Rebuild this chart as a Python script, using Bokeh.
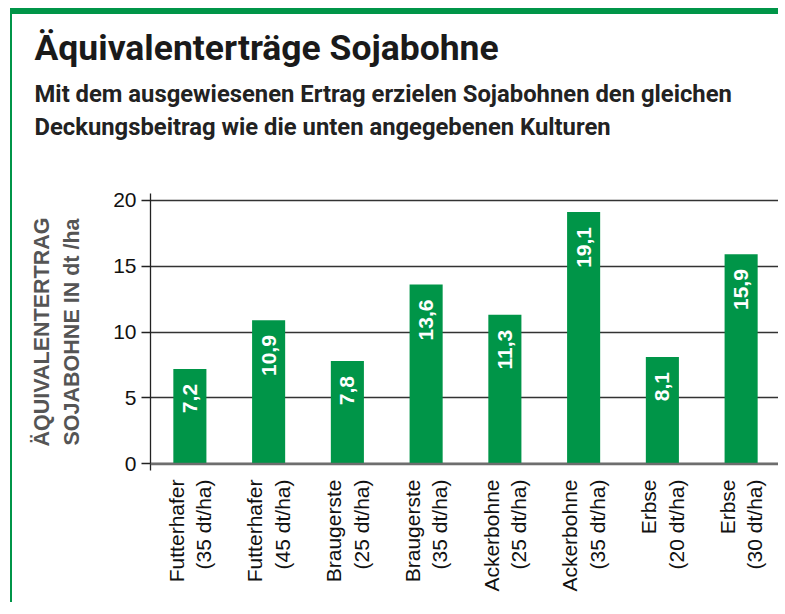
import math
from bokeh.plotting import figure
from bokeh.models import Span, FixedTicker, ColumnDataSource, Title
from bokeh.core.properties import value
from bokeh.embed import file_html
from bokeh.resources import INLINE

# ---- data ----
crops = ["Futterhafer", "Futterhafer", "Braugerste", "Braugerste",
         "Ackerbohne", "Ackerbohne", "Erbse", "Erbse"]
crop_yields = ["(35 dt/ha)", "(45 dt/ha)", "(25 dt/ha)", "(35 dt/ha)",
               "(25 dt/ha)", "(35 dt/ha)", "(20 dt/ha)", "(30 dt/ha)"]
soy_equivalent = [7.2, 10.9, 7.8, 13.6, 11.3, 19.1, 8.1, 15.9]
y_ticks = [0, 5, 10, 15, 20]

title_text = "Äquivalenterträge Sojabohne"
subtitle_lines = ["Mit dem ausgewiesenen Ertrag erzielen Sojabohnen den gleichen",
                  "Deckungsbeitrag wie die unten angegebenen Kulturen"]
ytitle_lines = ["ÄQUIVALENTERTRAG", "SOJABOHNE IN dt /ha"]

GREEN = "#009548"
W, H = 768, 594

cats = [f"{c}\n{y}" for c, y in zip(crops, crop_yields)]
labels = [f"{v:.1f}".replace(".", ",") for v in soy_equivalent]
src = ColumnDataSource(dict(cat=cats, val=soy_equivalent, lab=labels))

p = figure(x_range=cats, y_range=(-0.5, 20.5), width=W, height=H,
           output_backend="svg", toolbar_location=None,
           min_border_left=138, min_border_right=0,
           min_border_top=179, min_border_bottom=H - 179 - 277)
p.styles = {"margin-left": "10px", "margin-top": "8px",
            "border-top": f"6px solid {GREEN}",
            "border-left": f"2px solid {GREEN}"}

p.outline_line_color = None
p.background_fill_color = "white"
p.border_fill_color = "white"

# grid
p.xgrid.visible = False
p.ygrid.ticker = FixedTicker(ticks=y_ticks)
p.ygrid.grid_line_color = "#333333"
p.ygrid.grid_line_width = 1.4

# y axis
p.yaxis.ticker = FixedTicker(ticks=y_ticks)
p.yaxis.axis_line_color = "#222222"
p.yaxis.axis_line_width = 1.3
p.yaxis.major_tick_line_color = "#222222"
p.yaxis.major_tick_line_width = 1.3
p.yaxis.major_tick_out = 9
p.yaxis.major_tick_in = 0
p.yaxis.minor_tick_line_color = None
p.yaxis.major_label_text_font = "Liberation Sans"
p.yaxis.major_label_text_font_size = "21px"
p.yaxis.major_label_text_color = "#111111"
p.yaxis.major_label_standoff = 5
p.yaxis.axis_label = "\n".join(ytitle_lines)
p.yaxis.axis_label_text_font = "Liberation Sans"
p.yaxis.axis_label_text_font_style = "bold"
p.yaxis.axis_label_text_font_size = "21.5px"
p.yaxis.axis_label_text_color = "#555555"
p.yaxis.axis_label_text_line_height = 1.25
p.yaxis.axis_label_standoff = 26

# x axis
p.xaxis.axis_line_color = None
p.xaxis.major_tick_line_color = None
p.xaxis.minor_tick_line_color = None
p.xaxis.major_label_orientation = math.pi / 2
p.xaxis.major_label_text_font = "Liberation Sans"
p.xaxis.major_label_text_font_size = "21px"
p.xaxis.major_label_text_color = "#111111"
p.xaxis.major_label_standoff = 3
p.xaxis.major_label_text_align = "right"

# bars
p.vbar(x="cat", top="val", bottom=0, width=0.42, source=src,
       fill_color=GREEN, line_color=None)

p.add_layout(Span(location=0, dimension="width", line_color="#6e6e6e",
                  line_width=2.5))

# value labels
p.text(x="cat", y="val", text="lab", source=src, angle=math.pi / 2,
       text_align="right", text_baseline="middle", y_offset=15,
       text_color="white", text_font=value("Liberation Sans"),
       text_font_style="bold", text_font_size="21px")

# titles (stacked outward from the frame)
p.add_layout(Title(text=" ", text_font_size="26px", standoff=19), "above")
p.add_layout(Title(text=subtitle_lines[1], align="left", offset=-116,
                   text_font="Roboto", text_font_style="bold",
                   text_font_size="23.8px", text_color="#222222", standoff=3),
             "above")
p.add_layout(Title(text=subtitle_lines[0], align="left", offset=-116,
                   text_font="Roboto", text_font_style="bold",
                   text_font_size="23.8px", text_color="#222222", standoff=3),
             "above")
p.add_layout(Title(text=title_text, align="left", offset=-116,
                   text_font="Roboto", text_font_style="bold",
                   text_font_size="35.5px", text_color="#1a1a1a", standoff=16),
             "above")

open("out.html", "w").write(file_html(p, INLINE))
